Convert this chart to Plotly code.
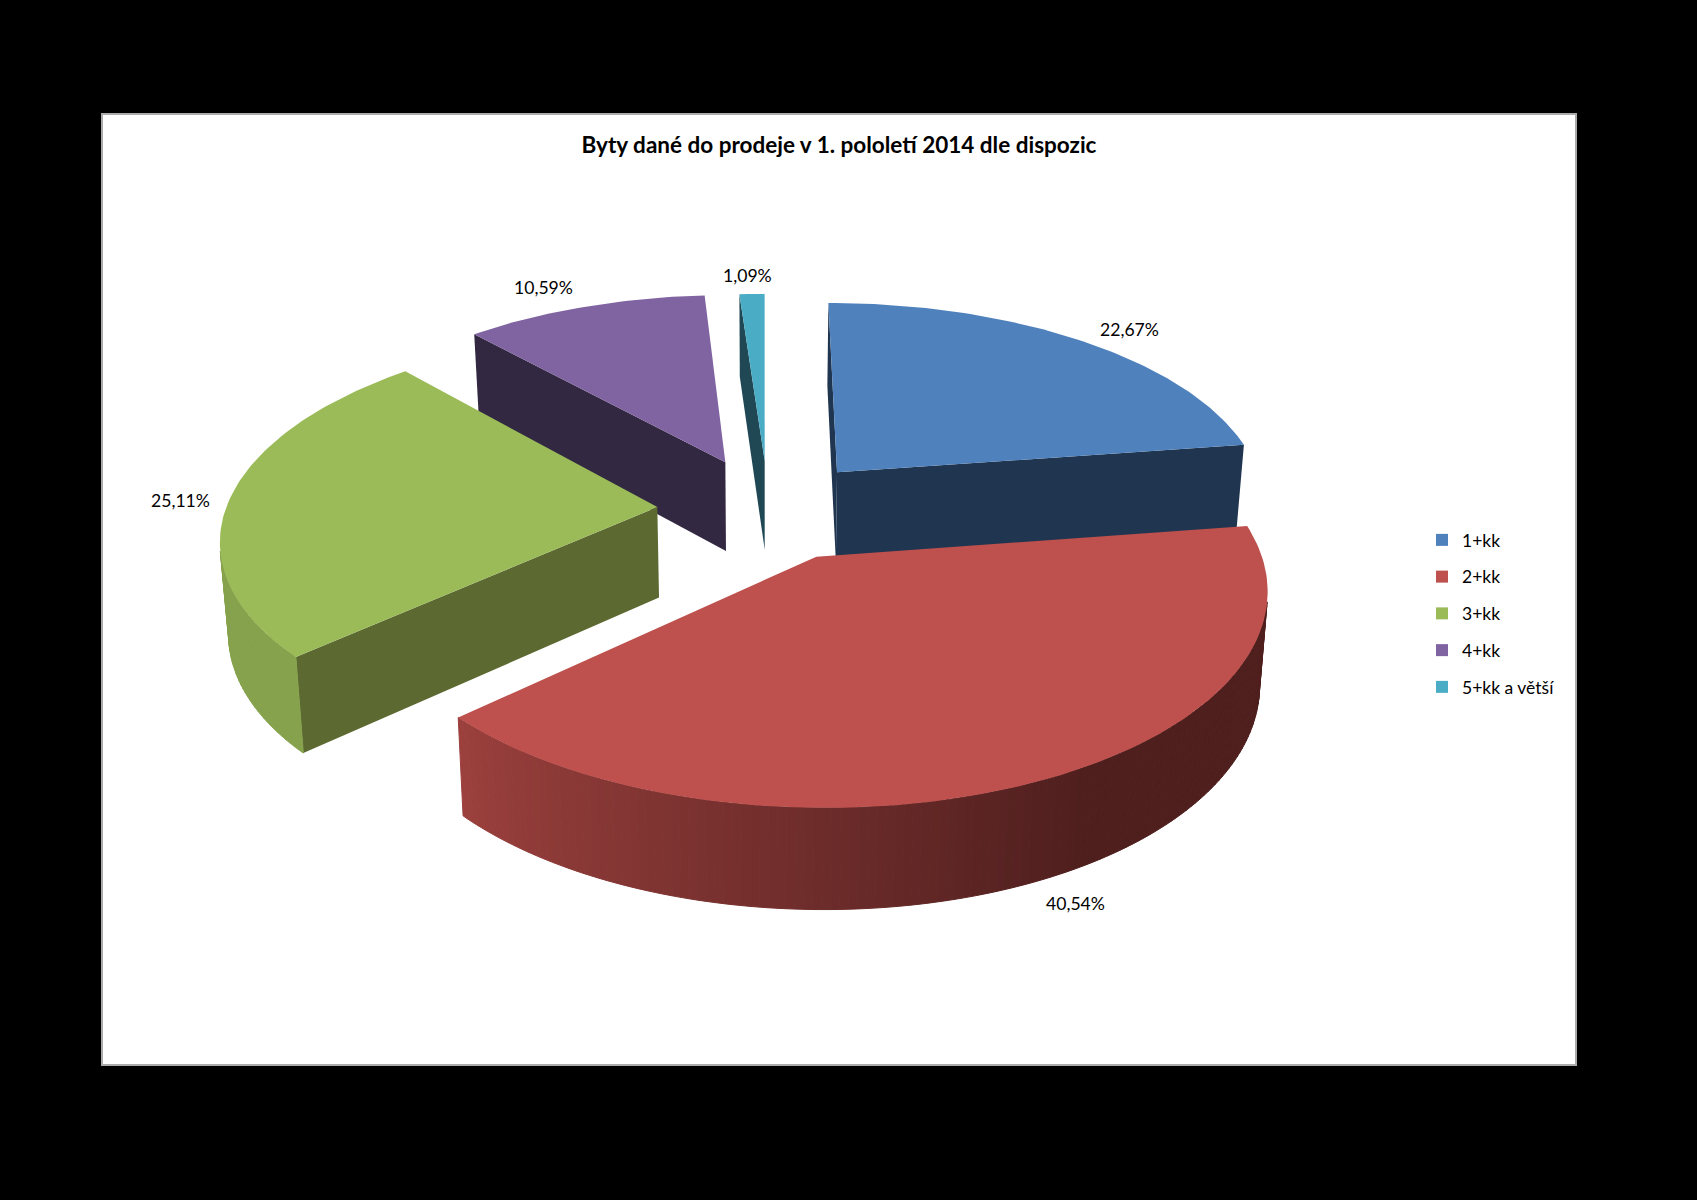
import numpy as np
import plotly.graph_objects as go

TITLE = "Byty dané do prodeje v 1. pololetí 2014 dle dispozic"
CATEGORIES = ["1+kk", "2+kk", "3+kk", "4+kk", "5+kk a větší"]
VALUES = [22.67, 40.54, 25.11, 10.59, 1.09]

TOP_COLORS = ["#4F81BD", "#BE504D", "#9BBB59", "#8064A2", "#4BACC6"]
WALL_COLORS = ["#1F3550", "#4F1F1E", "#5C6A32", "#332842", "#1F4854"]
RIM_LIGHT = ["#3F6797", "#9B403D", "#86A24C", "#665082", "#3C8A9E"]
RIM_DARK = ["#1F3550", "#4F1F1E", "#86A24C", "#332842", "#1F4854"]
EXPLODE = [0.25, 0.25, 0.258, 0.263, 0.25]
LABEL_X = [1129, 1075, 180, 543, 747]
LABEL_Y = [329, 903, 500, 287, 275]

W, H = 1697, 1200
SCALE = W / 1568
VX, VY = 706.0, -886.0
M0, C = 7.37e-4, 1.015e-4
KX, X0 = 0.294, 0.01
DROP_BASE, DROP_SLOPE, DROP_X = 66.0, 0.0375, 0.984


def project(x, yf):
    sy = VY + 1.0 / (M0 - C * yf)
    sx = VX + KX * (x + X0) * (sy - VY)
    return sx, sy


def lower(sx, sy):
    return VX + (sx - VX) * DROP_X, sy + DROP_BASE + DROP_SLOPE * sy


def to_px(xs, ys):
    return list(np.asarray(xs) * SCALE), list(np.asarray(ys) * SCALE)


def mix(a, b, t):
    ca = [int(a[i:i + 2], 16) for i in (1, 3, 5)]
    cb = [int(b[i:i + 2], 16) for i in (1, 3, 5)]
    return "rgb(%d,%d,%d)" % tuple(round(p + (q - p) * t) for p, q in zip(ca, cb))


def poly(xs, ys, color, seam=False):
    px, py = to_px(xs, ys)
    return go.Scatter(
        x=px + px[:1], y=py + py[:1], mode="lines", fill="toself", fillcolor=color,
        line=dict(color=color, width=1 if seam else 0), hoverinfo="skip", showlegend=False,
    )


edges = np.cumsum([0] + VALUES) / sum(VALUES) * 360
slices = []
for i in range(len(VALUES)):
    a0, a1 = edges[i], edges[i + 1]
    mid = np.radians((a0 + a1) / 2)
    ax, ay = EXPLODE[i] * np.sin(mid), -EXPLODE[i] * np.cos(mid)
    slices.append((project(ax, ay)[1], i, a0, a1, ax, ay))

traces = []
for _, i, a0, a1, ax, ay in sorted(slices):
    def rim(deg):
        r = np.radians(deg)
        return project(ax + np.sin(r), ay - np.cos(r))

    apex = project(ax, ay)
    n = max(int((a1 - a0) / 1.0), 2)
    arc = np.linspace(a0, a1, n + 1)
    pts = [rim(d) for d in arc]

    def visible(p, q):
        dx, dy = q[0] - p[0], q[1] - p[1]
        b = lower(*p)
        return (b[0] - p[0]) * dy + (b[1] - p[1]) * (-dx) > 0

    # radial walls
    for p, q in ((apex, pts[0]), (pts[-1], apex)):
        if visible(p, q):
            bp, bq = lower(*p), lower(*q)
            traces.append(poly([p[0], q[0], bq[0], bp[0]], [p[1], q[1], bq[1], bp[1]], WALL_COLORS[i]))
    # rim wall, in strips for the shading
    for k in range(n):
        p, q = pts[k], pts[k + 1]
        if visible(p, q):
            bp, bq = lower(*p), lower(*q)
            t = np.clip(((arc[k] + arc[k + 1]) / 2 - 150) / 77, 0, 1)
            traces.append(poly([p[0], q[0], bq[0], bp[0]], [p[1], q[1], bq[1], bp[1]],
                               mix(RIM_DARK[i], RIM_LIGHT[i], t), seam=True))
    # top face
    traces.append(poly([apex[0]] + [p[0] for p in pts], [apex[1]] + [p[1] for p in pts], TOP_COLORS[i]))

for name, color in zip(CATEGORIES, TOP_COLORS):
    traces.append(go.Scatter(
        x=[None], y=[None], mode="markers", name=name, legendgroup=name,
        marker=dict(symbol="square", size=12, color=color), hoverinfo="skip",
    ))

fig = go.Figure(traces)
annotations = [
    dict(x=x, y=y, text=f"{v:.2f}".replace(".", ",") + "%", showarrow=False,
         xref="x", yref="y", xanchor="center", yanchor="middle",
         font=dict(family="Lato", size=17.6, color="#000000"))
    for x, y, v in zip(LABEL_X, LABEL_Y, VALUES)
]
fig.update_layout(
    width=W, height=H, margin=dict(l=0, r=0, t=0, b=0),
    paper_bgcolor="#000000", plot_bgcolor="rgba(0,0,0,0)",
    xaxis=dict(range=[0, W], visible=False, fixedrange=True),
    yaxis=dict(range=[H, 0], visible=False, fixedrange=True),
    title=dict(text=f"<b>{TITLE}</b>", x=839 / W, xanchor="center", y=1 - 145 / H, yanchor="middle",
               font=dict(family="Lato", size=22.5, color="#000000")),
    shapes=[dict(type="rect", xref="x", yref="y", x0=102, x1=1576, y0=114, y1=1065,
                 fillcolor="#FFFFFF", line=dict(color="#ABABAB", width=2), layer="below")],
    annotations=annotations,
    legend=dict(x=1422 / W, xanchor="left", y=1 - 522 / H, yanchor="top",
                traceorder="grouped", tracegroupgap=11, itemwidth=30,
                bgcolor="rgba(0,0,0,0)", font=dict(family="Lato", size=17.5, color="#000000")),
    showlegend=True,
)
fig.write_html("out.html", config={"displayModeBar": False},
               post_script="document.body.style.margin='0';document.body.style.background='#000';")
